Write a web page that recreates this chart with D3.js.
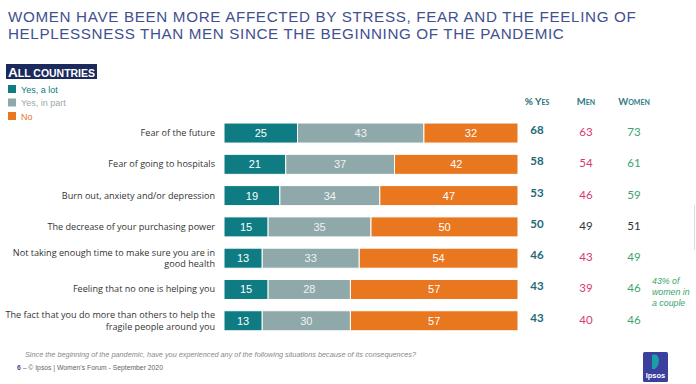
<!DOCTYPE html>
<html>
<head>
<meta charset="utf-8">
<script src="https://cdn.jsdelivr.net/npm/d3@7"></script>
<style>
  body { margin: 0; background: #fff; }
  svg { display: block; font-family: "Liberation Sans", Arial, sans-serif; }
</style>
</head>
<body>
<div id="chart"></div>
<script>
var svgWidth = 696;
var svgHeight = 384;

// data
var categories = [
  "Fear of the future",
  "Fear of going to hospitals",
  "Burn out, anxiety and/or depression",
  "The decrease of your purchasing power",
  "Not taking enough time to make sure you are in|good health",
  "Feeling that no one is helping you",
  "The fact that you do more than others to help the|fragile people around you"
];
var seriesNames = ["Yes, a lot", "Yes, in part", "No"];
var yesALot = [25, 21, 19, 15, 13, 15, 13];
var yesInPart = [43, 37, 34, 35, 33, 28, 30];
var no = [32, 42, 47, 50, 54, 57, 57];
var totalYes = [68, 58, 53, 50, 46, 43, 43];
var men = [63, 54, 46, 49, 43, 39, 40];
var women = [73, 61, 59, 51, 49, 46, 46];

var colors = ["#0e7c82", "#8fa9aa", "#e8771f"];

var svg = d3.select("#chart")
  .append("svg")
  .attr("width", svgWidth)
  .attr("height", svgHeight);

// title
var title = svg.append("text")
  .attr("x", 8)
  .attr("fill", "#41508f")
  .style("font-size", "15.2px")
  .style("letter-spacing", "0.2px");
title.append("tspan").attr("x", 8).attr("y", 22)
  .attr("textLength", 628).attr("lengthAdjust", "spacing")
  .text("WOMEN HAVE BEEN MORE AFFECTED BY STRESS, FEAR AND THE FEELING OF");
title.append("tspan").attr("x", 8).attr("y", 39)
  .attr("textLength", 556).attr("lengthAdjust", "spacing")
  .text("HELPLESSNESS THAN MEN SINCE THE BEGINNING OF THE PANDEMIC");

// "All countries" tag
svg.append("rect")
  .attr("x", 6).attr("y", 64)
  .attr("width", 91).attr("height", 15)
  .attr("fill", "#1b2a5c");
var tag = svg.append("text")
  .attr("x", 8).attr("y", 76.5)
  .attr("fill", "#fff")
  .style("font-weight", "bold")
  .attr("textLength", 87)
  .attr("lengthAdjust", "spacingAndGlyphs");
tag.append("tspan").style("font-size", "13px").text("A");
tag.append("tspan").style("font-size", "10px").text("LL COUNTRIES");

// legend
var legendColors = ["#0e7c82", "#9aa9a9", "#e8771f"];
var legend = svg.append("g");
seriesNames.forEach(function(name, i) {
  var ly = 85 + i * 13.5;
  legend.append("rect")
    .attr("x", 8).attr("y", ly)
    .attr("width", 8).attr("height", 8)
    .attr("fill", colors[i]);
  legend.append("text")
    .attr("x", 21).attr("y", ly + 7.5)
    .attr("fill", legendColors[i])
    .style("font-size", "9px")
    .text(name);
});

// scales
var x = d3.scaleLinear().domain([0, 100]).range([224, 518]);
var y = d3.scaleBand()
  .domain(categories)
  .range([117.4, 336.4])
  .paddingInner(0.36)
  .paddingOuter(0.18);

var rows = categories.map(function(c, i) {
  return { cat: c, vals: [yesALot[i], yesInPart[i], no[i]] };
});

var stacked = [];
rows.forEach(function(r) {
  var start = 0;
  r.vals.forEach(function(v, k) {
    stacked.push({ cat: r.cat, k: k, x0: start, x1: start + v, v: v });
    start += v;
  });
});

var bars = svg.append("g");
bars.selectAll("rect")
  .data(stacked)
  .enter()
  .append("rect")
  .attr("x", d => x(d.x0))
  .attr("y", d => y(d.cat))
  .attr("width", d => x(d.x1) - x(d.x0))
  .attr("height", y.bandwidth())
  .attr("fill", d => colors[d.k])
  .attr("stroke", "#fff")
  .attr("stroke-width", 1);

bars.selectAll("text")
  .data(stacked)
  .enter()
  .append("text")
  .attr("x", d => x((d.x0 + d.x1) / 2))
  .attr("y", d => y(d.cat) + y.bandwidth() / 2 + 4)
  .attr("text-anchor", "middle")
  .attr("fill", d => d.k === 1 ? "#eef2f2" : "#fff")
  .style("font-size", "11px")
  .text(d => d.v);

// category labels
var labels = svg.append("g");
categories.forEach(function(c) {
  var parts = c.split("|");
  var cy = y(c) + y.bandwidth() / 2;
  var t = labels.append("text")
    .attr("text-anchor", "end")
    .attr("fill", "#333")
    .style("font-family", "'Open Sans', sans-serif")
    .style("font-size", "9.1px");
  parts.forEach(function(p, j) {
    var off = parts.length === 1 ? 3 : (j === 0 ? -2.5 : 9);
    t.append("tspan").attr("x", 215).attr("y", cy + off).text(p);
  });
});

// side columns
var colX = [537, 586, 634];
var headers = ["% Yes", "Men", "Women"];
headers.forEach(function(h, i) {
  svg.append("text")
    .attr("x", colX[i]).attr("y", 105)
    .attr("text-anchor", "middle")
    .attr("fill", i === 0 ? "#2b6f77" : "#2f7c84")
    .style("font-family", "Lato, sans-serif")
    .style("font-size", i === 0 ? "10px" : "9.5px")
    .style("font-weight", "bold")
    .style("font-variant", "small-caps")
    .text(h);
});

var cols = svg.append("g")
  .style("font-family", "Lato, sans-serif")
  .style("font-size", "11.5px");
categories.forEach(function(c, i) {
  var cy = y(c) + y.bandwidth() / 2 + 3;
  var neutral = men[i] === 49 && women[i] === 51;
  cols.append("text")
    .attr("x", colX[0]).attr("y", cy - 2)
    .attr("text-anchor", "middle")
    .attr("fill", "#1f6a76")
    .style("font-weight", "bold")
    .text(totalYes[i]);
  cols.append("text")
    .attr("x", colX[1]).attr("y", cy)
    .attr("text-anchor", "middle")
    .attr("fill", neutral ? "#333" : "#d53a73")
    .text(men[i]);
  cols.append("text")
    .attr("x", colX[2]).attr("y", cy)
    .attr("text-anchor", "middle")
    .attr("fill", neutral ? "#333" : "#3aa56b")
    .text(women[i]);
});

// note beside "feeling that no one is helping you"
var note = svg.append("g")
  .attr("fill", "#3aa56b")
  .style("font-family", "'Liberation Sans', Arial, sans-serif")
  .style("font-size", "8.8px")
  .style("font-style", "italic");
["43% of", "women in", "a couple"].forEach(function(s, j) {
  note.append("text").attr("x", 652).attr("y", 284 + j * 11).text(s);
});

// faint divider at right edge
svg.append("line")
  .attr("x1", 694.5).attr("x2", 694.5)
  .attr("y1", 205).attr("y2", 250)
  .attr("stroke", "#ddd");

// footer
svg.append("text")
  .attr("x", 25).attr("y", 357)
  .attr("fill", "#888")
  .style("font-size", "7.3px")
  .style("font-style", "italic")
  .text("Since the beginning of the pandemic, have you experienced any of the following situations because of its consequences?");

var foot = svg.append("text")
  .attr("x", 17).attr("y", 370)
  .style("font-size", "6.8px")
  .attr("fill", "#666");
foot.append("tspan").attr("fill", "#3d4c8e").style("font-weight", "bold").text("6");
foot.append("tspan").text(" \u2013  \u00a9 Ipsos | Women\u2019s Forum - September 2020");

// Ipsos logo
var logo = svg.append("g").attr("transform", "translate(643,352)");
logo.append("rect")
  .attr("width", 25).attr("height", 30)
  .attr("rx", 1.5)
  .attr("fill", "#3b3f9e");
logo.append("path")
  .attr("d", "M9,3 Q15,1 16,8 Q16,14 12,17 L9,17 Z")
  .attr("fill", "#18a0a6");
logo.append("text")
  .attr("x", 12.5).attr("y", 26)
  .attr("text-anchor", "middle")
  .attr("fill", "#fff")
  .style("font-size", "7.5px")
  .style("font-weight", "bold")
  .text("Ipsos");
</script>
</body>
</html>
